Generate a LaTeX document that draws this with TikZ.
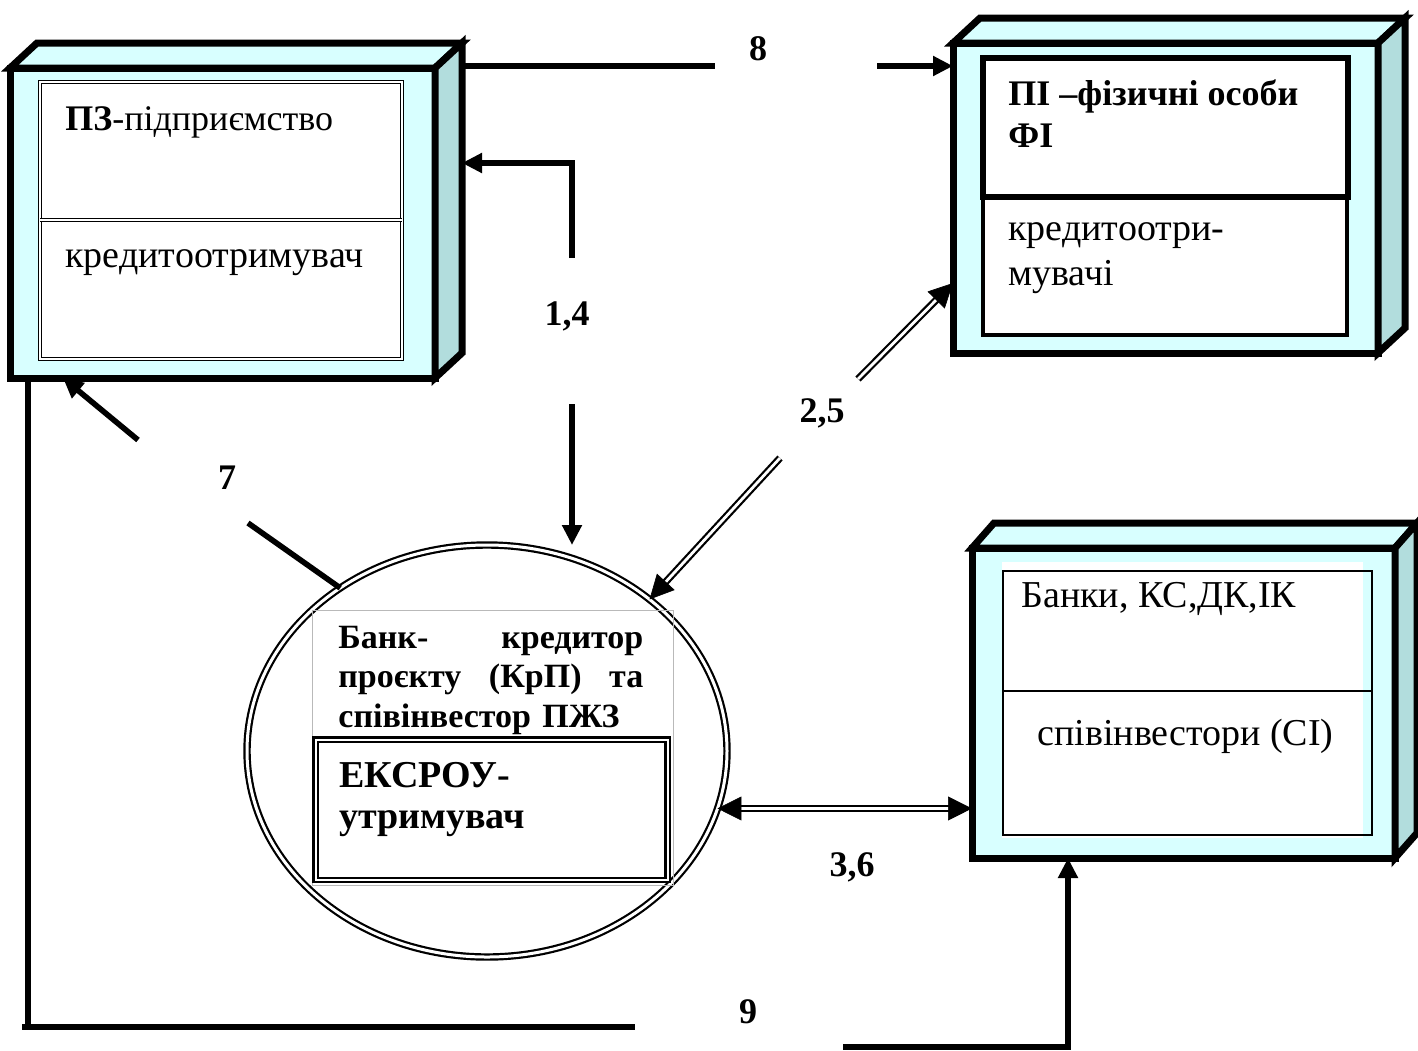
\documentclass[tikz,border=0pt]{standalone}
\usepackage{fontspec}
\setmainfont{Liberation Serif}
\usetikzlibrary{calc,shapes.geometric,arrows.meta,positioning}

\newcommand{\px}{0.5pt}
\newcommand{\depthx}{27}
\newcommand{\depthy}{25}
\newcommand{\boxwidth}{425*\px}
\newcommand{\boxheight}{310*\px}
\newcommand{\bodysize}{\fontsize{19}{22}\selectfont}
\newcommand{\pzsize}{\fontsize{18}{22}\selectfont}
\newcommand{\headsize}{\fontsize{18}{21}\selectfont}
\newcommand{\ovalsize}{\fontsize{17}{19.75}\selectfont}
\newcommand{\eksize}{\fontsize{19}{21}\selectfont}
\newcommand{\numsize}{\fontsize{18}{21}\selectfont}
\definecolor{facecyan}{RGB}{216,255,255}
\definecolor{sidecyan}{RGB}{178,221,221}

\begin{document}
\begin{tikzpicture}[x=\px,y=-\px]

%% styles
\tikzstyle{front}=[draw,fill=facecyan,line width=3.5pt,outer sep=0pt,inner sep=0pt,minimum width=\boxwidth,minimum height=\boxheight]
\tikzstyle{topface}=[draw,fill=facecyan,line width=3.5pt,line join=miter]
\tikzstyle{sideface}=[draw,fill=sidecyan,line width=3.5pt,line join=miter]
\tikzstyle{conn}=[line width=2.8pt]
\tikzstyle{arrowtip}=[-{Triangle[length=10pt,width=9.5pt]}]
\tikzstyle{dbl}=[double,double distance=1.4pt,line width=1.1pt]
\tikzstyle{dbltip}=[draw=white,line width=0.3pt,-{Triangle[color=black,fill=black,length=12pt,width=12pt]}]
\tikzstyle{dbltips}=[draw=white,line width=0.3pt,{Triangle[color=black,fill=black,length=12pt,width=12pt]}-{Triangle[color=black,fill=black,length=12pt,width=12pt]}]
\tikzstyle{txt}=[anchor=base west,inner sep=0pt]
\tikzstyle{num}=[font=\numsize\bfseries,inner sep=0pt]

\useasboundingbox (0,0) rectangle (1418,1050);

%% box PZ, enterprise
\node (PZ) [front] at (222.5,223) {};
\draw[topface] (PZ.north west) -- ++(\depthx,-\depthy) -- ($(PZ.north east)+(\depthx,-\depthy)$) -- (PZ.north east) -- cycle;
\draw[sideface] (PZ.north east) -- ++(\depthx,-\depthy) -- ($(PZ.south east)+(\depthx,-\depthy)$) -- (PZ.south east) -- cycle;
\draw[double,double distance=1pt,line width=0.7pt,fill=white] (40,82) rectangle (402,359);
\draw[double,double distance=1pt,line width=0.7pt] (40,220) -- (402,220);
\node (PZone) [txt,font=\pzsize] at (65,130) {\textbf{ПЗ}-підприємство};
\node (PZtwo) [txt,font=\bodysize] at (65,267) {кредитоотримувач};

%% box PI, private persons
\node (PI) [front] at (1165.5,198) {};
\draw[topface] (PI.north west) -- ++(\depthx,-\depthy) -- ($(PI.north east)+(\depthx,-\depthy)$) -- (PI.north east) -- cycle;
\draw[sideface] (PI.north east) -- ++(\depthx,-\depthy) -- ($(PI.south east)+(\depthx,-\depthy)$) -- (PI.south east) -- cycle;
\fill[white] (983,58) rectangle (1348,335);
\draw[line width=2pt] (983,197) rectangle (1347,335);
\draw[line width=2.8pt] (983,58) rectangle (1348,197);
\node (PIone) [txt,font=\headsize\bfseries] at (1008,105) {ПІ –фізичні особи};
\node (PItwo) [txt,font=\headsize\bfseries] at (1008,147) {ФІ};
\node (PIthree) [txt,font=\bodysize] at (1008,240) {кредитоотри-};
\node (PIfour) [txt,font=\bodysize] at (1008,285) {мувачі};

%% box BK, co-investors
\node (BK) [front,minimum width=423*\px] at (1183.5,703) {};
\draw[topface] (BK.north west) -- ++(22,-\depthy) -- ($(BK.north east)+(22,-\depthy)$) -- (BK.north east) -- cycle;
\draw[sideface] (BK.north east) -- ++(22,-\depthy) -- ($(BK.south east)+(22,-\depthy)$) -- (BK.south east) -- cycle;
\fill[white] (1002,562) rectangle (1363,838);
\draw[line width=0.75pt] (1003,571) rectangle (1372,835);
\draw[line width=0.75pt] (1003,691) -- (1372,691);
\node (BKone) [txt,font=\bodysize] at (1021,607) {Банки, КС,ДК,ІК};
\node (BKtwo) [txt,font=\bodysize] at (1037,745) {співінвестори (СІ)};

%% oval KrP, bank-creditor
\node (KrP) [ellipse,draw,double,double distance=1.5pt,line width=1.1pt,minimum width=480*\px,minimum height=412*\px,inner sep=0pt,outer sep=0pt] at (487,751) {};
\draw[gray!55,line width=0.5pt] (312,610) rectangle (673,885);
\node (KrPtext) [txt,text width=152.5pt,align=left,font=\ovalsize\bfseries] at (338,648) {Банк-\hfill кредитор\\ проєкту\hfill (КрП)\hfill та\\ співінвестор ПЖЗ};
\draw[double,double distance=1pt,line width=1.2pt] (315.5,739.5) rectangle (667.5,880);
\node (EKone) [txt,font=\eksize\bfseries] at (339,787) {ЕКСРОУ-};
\node (EKtwo) [txt,font=\eksize\bfseries] at (339,828) {утримувач};

%% flow numbers
\node (n8) [num] at (758,49) {8};
\node (n14) [num] at (567,316) {1,4};
\node (n25) [num] at (822,413) {2,5};
\node (n7) [num] at (227,478) {7};
\node (n36) [num] at (852,867) {3,6};
\node (n9) [num] at (748,1012) {9};

%% free ends of the connectors (gaps round the numbers)
\coordinate (c8a) at (715,66);
\coordinate (c8b) at (877,66);
\coordinate (c14a) at (572,258);
\coordinate (c14c) at (572,163);
\coordinate (c14b) at (572,404);
\coordinate (c25a) at (858,379);
\coordinate (c25b) at (780,458);
\coordinate (c7a) at (248,523);
\coordinate (c7b) at (138,440);
\coordinate (c9a) at (635,1027);
\coordinate (c9b) at (843,1047);
\coordinate (c9c) at (1068,1047);

%% 8
\draw[conn] ($(c8a -| PZ.east)+(\depthx,0)$) -- (c8a);
\draw[conn,arrowtip] (c8b) -- (c8b -| PI.west);

%% 1,4
\draw[conn,arrowtip] (c14a) -- (c14c) -- ($(c14c -| PZ.east)+(\depthx,0)$);
\draw[conn,arrowtip] (c14b) -- (c14b |- KrP.north);

%% 2,5 double lines
\coordinate (t25) at ($(PI.south west)+(0,-70)$);
\draw[dbl,shorten >=11pt] (c25a) -- (t25);
\draw[dbltip] (c25a) -- (t25);
\draw[dbl,shorten >=11pt] (c25b) -- (KrP.43);
\draw[dbltip] (c25b) -- (KrP.43);

%% 3,6 double line, both ways
\draw[dbl,shorten >=11pt,shorten <=11pt] (KrP.-14.6) -- (KrP.-14.6 -| BK.west);
\draw[dbltips] (KrP.-14.6) -- (KrP.-14.6 -| BK.west);

%% 7
\draw[conn] (KrP.132) -- (c7a);
\draw[conn,arrowtip] (c7b) -- ($(PZ.south west)+(53,0)$);

%% 9
\draw[conn] ($(PZ.south west)+(18,0)$) -- ($(PZ.south west |- c9a)+(18,0)$);
\draw[conn] ($(PZ.south west |- c9a)+(12,0)$) -- (c9a);
\draw[conn,arrowtip] (c9b) -- (c9c) -- (c9c |- BK.south);

\end{tikzpicture}
\end{document}
